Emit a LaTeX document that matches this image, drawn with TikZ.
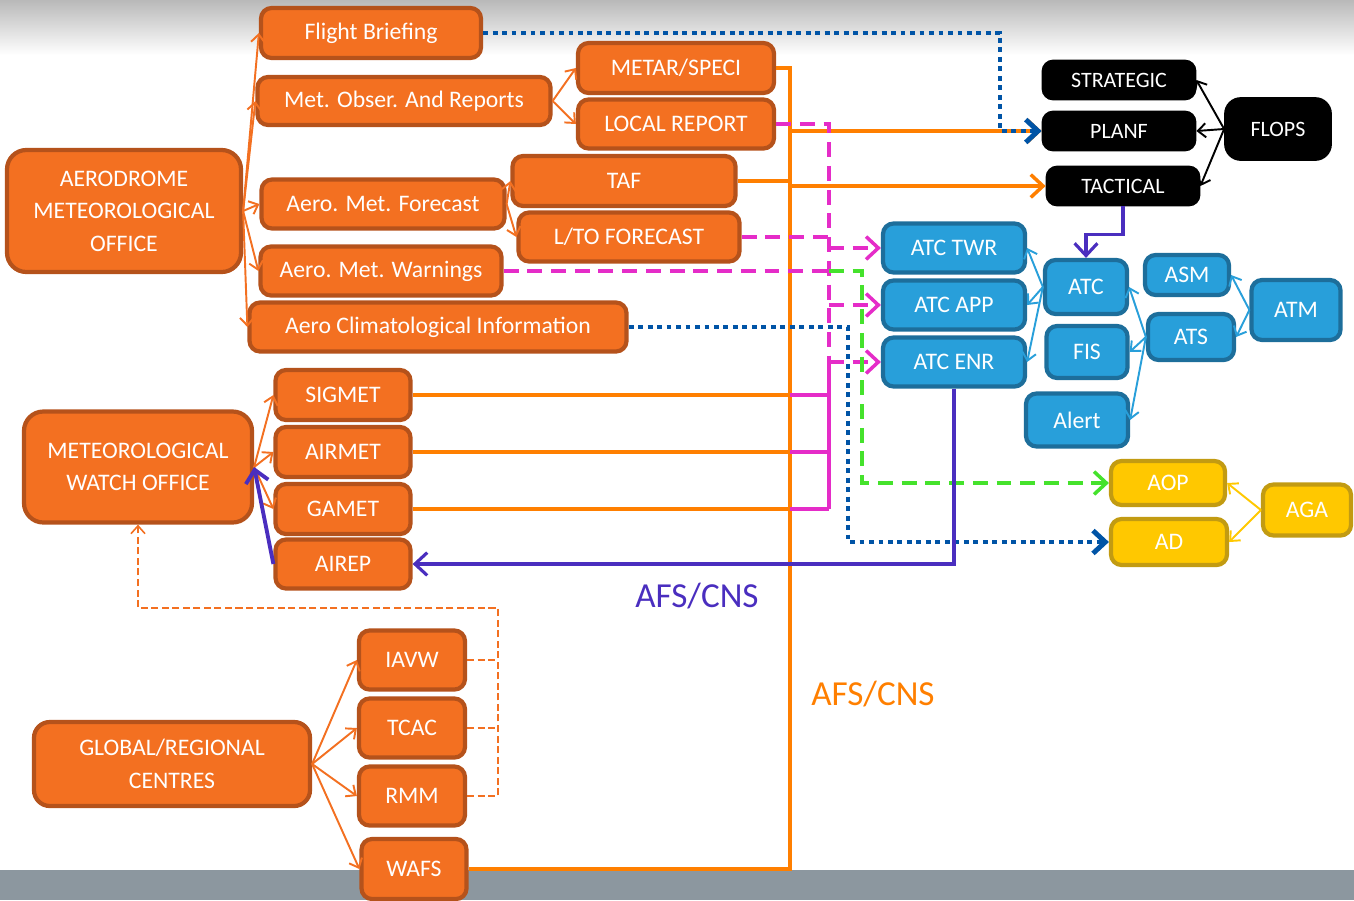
\documentclass[tikz,border=0pt]{standalone}
\usepackage{fontspec}
\setmainfont{Carlito}
\usetikzlibrary{arrows.meta}

\definecolor{ofill}{HTML}{F37021}
\definecolor{oline}{HTML}{B5521B}
\definecolor{obus}{HTML}{FF7F00}
\definecolor{bfill}{HTML}{289FDA}
\definecolor{bline}{HTML}{1D6E9B}
\definecolor{yfill}{HTML}{FFC800}
\definecolor{yline}{HTML}{C29B12}
\definecolor{mag}{HTML}{E52CC8}
\definecolor{grn}{HTML}{45E22C}
\definecolor{dotblue}{HTML}{0054A6}
\definecolor{purp}{HTML}{4A2EBF}
\definecolor{band}{HTML}{8C979F}

\tikzset{
  box/.style={rounded corners=6pt, line width=2.4pt, text=white, align=center,
    inner sep=0pt, font=\fontsize{13.5}{18.5}\selectfont},
  boxsize/.style 2 args={minimum width=#1*0.02cm, minimum height=#2*0.02cm},
  obox/.style={box, draw=oline, fill=ofill},
  bbox/.style={box, draw=bline, fill=bfill},
  ybox/.style={box, draw=yline, fill=yfill},
  kbox/.style={box, draw=black, fill=black, line width=1pt,
    font=\fontsize{12.5}{15}\selectfont},
  smalltip/.style={-{Straight Barb[length=4.5pt,width=8pt]}},
  bigtip/.style={-{Straight Barb[length=7pt,width=13pt]}},
  fan/.style={draw=ofill, line width=1.1pt, smalltip},
  odash/.style={draw=ofill, line width=0.9pt, dash pattern=on 4pt off 2pt},
  bus/.style={draw=obus, line width=2pt},
  mline/.style={draw=mag, line width=2pt},
  mdash/.style={mline, dash pattern=on 8.5pt off 5pt},
  gdash/.style={draw=grn, line width=2pt, dash pattern=on 8.5pt off 5pt},
  bdot/.style={draw=dotblue, line width=2.8pt, dash pattern=on 2.8pt off 2.6pt},
  pline/.style={draw=purp, line width=1.8pt},
  karrow/.style={draw=black, line width=1.1pt, smalltip},
  barrow/.style={draw=bfill, line width=1.1pt, smalltip},
  yarrow/.style={draw=yfill, line width=1.1pt, smalltip},
  netlabel/.style={font=\fontsize{20}{24}\selectfont, inner sep=0pt}
}

\begin{document}
\begin{tikzpicture}[x=0.02cm, y=-0.02cm]
    \useasboundingbox (0,0) rectangle (1354,900);
    % Background
    \shade[top color=gray!55, bottom color=white] (0,0) rectangle (1354,55);
    \fill[band] (0,870) rectangle (1354,900);

    % Aerodrome meteorological office
    \node[obox, boxsize={234}{122}, rounded corners=11pt] (amo) at (124,211) {AERODROME\\METEOROLOGICAL\\OFFICE};
    \node[obox, boxsize={220}{50}] (brief) at (371,33) {Flight Briefing};
    \node[obox, boxsize={293}{48}] (mor) at (404,101) {Met. Obser. And Reports};
    \node[obox, boxsize={243}{49}] (amf) at (383,204) {Aero. Met. Forecast};
    \node[obox, boxsize={241}{49}] (warn) at (381,271) {Aero. Met. Warnings};
    \node[obox, boxsize={377}{49}] (aci) at (438,327) {Aero Climatological Information};
    \node[obox, boxsize={196}{50}] (metar) at (676,68) {METAR/SPECI};
    \node[obox, boxsize={196}{49}] (local) at (676,124) {LOCAL REPORT};
    \node[obox, boxsize={223}{50}] (taf) at (624,181) {TAF};
    \node[obox, boxsize={221}{49}] (lto) at (629,237) {L/TO FORECAST};

    % Meteorological watch office
    \node[obox, boxsize={228}{111}, rounded corners=11pt] (mwo) at (138,467) {METEOROLOGICAL\\WATCH OFFICE};
    \node[obox, boxsize={135}{50}] (sigmet) at (343,395) {SIGMET};
    \node[obox, boxsize={135}{50}] (airmet) at (343,452) {AIRMET};
    \node[obox, boxsize={135}{50}] (gamet) at (343,509) {GAMET};
    \node[obox, boxsize={135}{49}] (airep) at (343,564) {AIREP};

    % Global/regional centres
    \node[obox, boxsize={276}{84}, rounded corners=9pt] (grc) at (172,764) {GLOBAL/REGIONAL\\CENTRES};
    \node[obox, boxsize={106}{59}] (iavw) at (412,660) {IAVW};
    \node[obox, boxsize={106}{59}] (tcac) at (412,728) {TCAC};
    \node[obox, boxsize={106}{59}] (rmm) at (412,796) {RMM};
    \node[obox, boxsize={105}{60}] (wafs) at (414,869) {WAFS};

    % Flight operations
    \node[kbox, boxsize={153}{39}] (strat) at (1119,80) {STRATEGIC};
    \node[kbox, boxsize={153}{39}] (planf) at (1119,131) {PLANF};
    \node[kbox, boxsize={153}{39}] (tact) at (1123,186) {TACTICAL};
    \node[kbox, boxsize={106}{62}, rounded corners=9pt] (flops) at (1278,129) {FLOPS};

    % Air traffic management
    \node[bbox, boxsize={142}{49}] (atctwr) at (954,248) {ATC TWR};
    \node[bbox, boxsize={142}{49}] (atcapp) at (954,305) {ATC APP};
    \node[bbox, boxsize={142}{49}] (atcenr) at (954,362) {ATC ENR};
    \node[bbox, boxsize={82}{54}] (atc) at (1086,287) {ATC};
    \node[bbox, boxsize={81}{52}] (fis) at (1087,352) {FIS};
    \node[bbox, boxsize={102}{53}] (alert) at (1077,420) {Alert};
    \node[bbox, boxsize={84}{40}] (asm) at (1187,275) {ASM};
    \node[bbox, boxsize={86}{46}] (ats) at (1191,337) {ATS};
    \node[bbox, boxsize={89}{60}] (atm) at (1296,310) {ATM};

    % Aerodromes
    \node[ybox, boxsize={114}{44}] (aop) at (1168,483) {AOP};
    \node[ybox, boxsize={116}{46}] (ad) at (1169,542) {AD};
    \node[ybox, boxsize={88}{51}] (aga) at (1307,510) {AGA};

    % Network labels
    \node[netlabel, text=purp] (afsp) at (697,596) {AFS/CNS};
    \node[netlabel, text=obus] (afso) at (873,694) {AFS/CNS};

    % Turning points
    \coordinate (busbot) at (790,869);
    \coordinate (mcol) at (829,124);
    \coordinate (gcol) at (862,271);
    \coordinate (fbturn) at (1000,33);
    \coordinate (aciturn) at (848,327);
    \coordinate (gcorner) at (498,608);

    % Product fans
    \foreach \k in {brief,mor,amf,warn,aci} {
        \draw[fan] (amo.east) -- (\k.west);
    }
    \foreach \k in {metar,local} {
        \draw[fan] (mor.east) -- (\k.west);
    }
    \foreach \k in {taf,lto} {
        \draw[fan] (amf.east) -- (\k.west);
    }
    \foreach \k in {sigmet,airmet,gamet} {
        \draw[fan] (mwo.east) -- (\k.west);
    }
    \foreach \k in {iavw,tcac,rmm,wafs} {
        \draw[fan] (grc.east) -- (\k.west);
    }
    \draw[pline, line width=2.2pt, bigtip] (airep.west) -- (mwo.east);

    % Advisories back to the watch office
    \draw[odash] (iavw.east) -- (iavw.east -| gcorner);
    \draw[odash] (tcac.east) -- (tcac.east -| gcorner);
    \draw[odash, smalltip] (rmm.east) -| (gcorner) -| (mwo.south);

    % AFS/CNS bus
    \draw[bus] (metar.east) -| (busbot) -- (wafs.east);
    \draw[bus] (taf.east) -- (taf.east -| busbot);
    \draw[bus, bigtip] (planf.west -| busbot) -- (planf.west);
    \draw[bus, bigtip] (tact.west -| busbot) -- (tact.west);
    \foreach \m in {sigmet,airmet,gamet} {
        \draw[bus] (\m.east) -- (\m.east -| busbot);
        \draw[mline] (\m.east -| busbot) -- (\m.east -| mcol);
    }
    \draw[mline] (gamet.east -| mcol) -- (atcenr.west -| mcol);

    % Reports to ATC units
    \draw[mdash] (local.east) -- (mcol) -- (atcenr.west -| mcol);
    \draw[mdash] (lto.east) -- (lto.east -| mcol);
    \draw[mdash] (warn.east) -- (warn.east -| mcol);
    \foreach \t in {atctwr,atcapp,atcenr} {
        \draw[mdash, bigtip] (\t.west -| mcol) -- (\t.west);
    }
    \draw[gdash, bigtip] (warn.east -| mcol) -- (gcol) |- (aop.west);

    % Briefing and climatology
    \draw[bdot, bigtip] (brief.east) -- (fbturn) |- (planf.west);
    \draw[bdot, bigtip] (aci.east) -- (aciturn) |- (ad.west);

    % AIREP loop
    \draw[pline, bigtip] (tact.south) -- ++(0,28) -| (atc.north);
    \draw[pline, bigtip] (atcenr.south) |- (airep.east);

    % Tree arrows
    \foreach \k in {strat,planf,tact} {
        \draw[karrow] (flops.west) -- (\k.east);
    }
    \foreach \k in {atctwr,atcapp,atcenr} {
        \draw[barrow] (atc.west) -- (\k.east);
    }
    \foreach \k in {atc,fis,alert} {
        \draw[barrow] (ats.west) -- (\k.east);
    }
    \foreach \k in {asm,ats} {
        \draw[barrow] (atm.west) -- (\k.east);
    }
    \foreach \k in {aop,ad} {
        \draw[yarrow] (aga.west) -- (\k.east);
    }
\end{tikzpicture}
\end{document}
